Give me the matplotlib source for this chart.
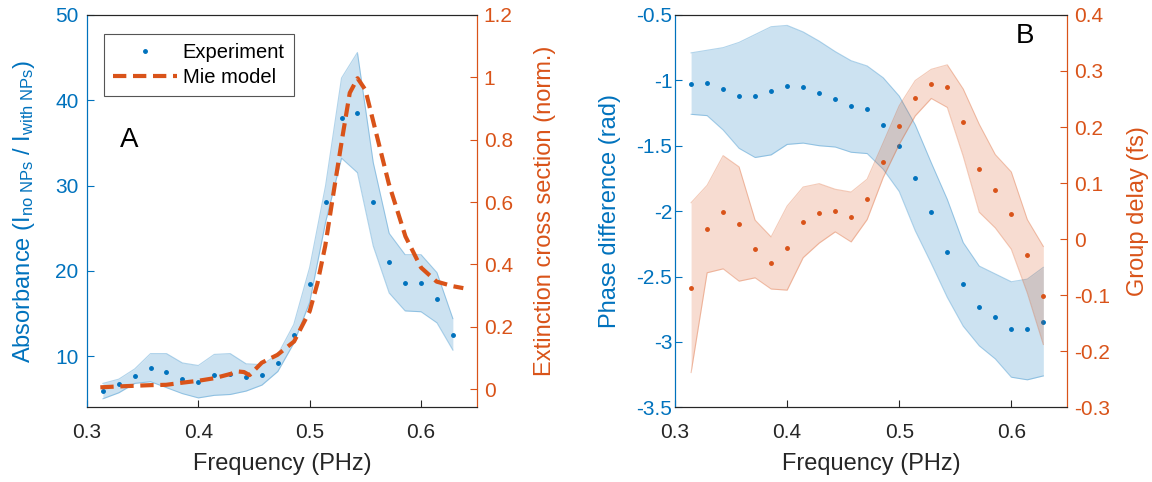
import matplotlib
matplotlib.use("Agg")
import matplotlib.pyplot as plt
from matplotlib.ticker import FuncFormatter

plt.rcParams["font.family"] = ["Liberation Sans", "DejaVu Sans"]
plt.rcParams["mathtext.fontset"] = "custom"
plt.rcParams["mathtext.rm"] = "Liberation Sans"
plt.rcParams["mathtext.it"] = "Liberation Sans:italic"
plt.rcParams["font.size"] = 15

BLUE = "#0072BD"
ORANGE = "#D95319"
GRAY = "#262626"

# frequency grid of the measurement (PHz)
freq = [0.3143, 0.3286, 0.3429, 0.3571, 0.3714, 0.3857, 0.4000, 0.4143,
        0.4286, 0.4429, 0.4571, 0.4714, 0.4857, 0.5000, 0.5143, 0.5286,
        0.5429, 0.5571, 0.5714, 0.5857, 0.6000, 0.6143, 0.6286]

# panel A: absorbance
absorb = [5.9, 6.7, 7.65, 8.55, 8.1, 7.3, 7.0, 7.8, 7.9, 7.6, 7.8, 9.2,
          12.5, 18.4, 28.1, 37.9, 38.5, 28.1, 21.0, 18.6, 18.6, 16.7, 12.5]
absorb_hi = [6.8, 7.3, 8.5, 10.3, 10.3, 9.2, 8.9, 10.2, 10.3, 9.1, 9.0, 10.2,
             13.7, 20.4, 30.0, 42.6, 45.6, 32.7, 24.4, 21.9, 21.9, 19.8, 14.4]
absorb_lo = [5.0, 5.7, 6.8, 7.0, 6.3, 5.6, 5.1, 5.4, 5.5, 5.9, 6.6, 8.2,
             11.5, 16.3, 25.7, 33.2, 31.5, 22.9, 17.4, 15.3, 15.2, 13.9, 10.7]

# panel A: Mie model
mie_freq = [0.312, 0.329, 0.343, 0.357, 0.371, 0.386, 0.400, 0.414, 0.429,
            0.435, 0.441, 0.446, 0.457, 0.471, 0.486, 0.500, 0.507, 0.514,
            0.521, 0.529, 0.536, 0.543, 0.550, 0.557, 0.571, 0.586, 0.600,
            0.614, 0.629, 0.638]
mie = [0.006, 0.009, 0.011, 0.013, 0.014, 0.021, 0.027, 0.035, 0.049,
       0.057, 0.055, 0.045, 0.085, 0.11, 0.153, 0.25, 0.34, 0.46,
       0.62, 0.80, 0.95, 0.997, 0.96, 0.86, 0.66, 0.49, 0.39,
       0.345, 0.33, 0.324]

# panel B: phase difference
phase = [-1.03, -1.02, -1.07, -1.12, -1.12, -1.08, -1.04, -1.05, -1.10, -1.14,
         -1.20, -1.22, -1.34, -1.50, -1.75, -2.01, -2.31, -2.56, -2.73, -2.81,
         -2.90, -2.90, -2.85]
phase_hi = [-0.79, -0.77, -0.75, -0.71, -0.65, -0.59, -0.58, -0.63, -0.70, -0.78,
            -0.85, -0.89, -0.98, -1.12, -1.34, -1.63, -1.91, -2.24, -2.42, -2.48,
            -2.54, -2.52, -2.43]
phase_lo = [-1.26, -1.27, -1.38, -1.52, -1.59, -1.57, -1.49, -1.48, -1.50, -1.51,
            -1.55, -1.56, -1.68, -1.85, -2.15, -2.40, -2.66, -2.88, -3.03, -3.13,
            -3.27, -3.29, -3.26]

# panel B: group delay
delay = [-0.087, 0.018, 0.048, 0.027, -0.017, -0.042, -0.015, 0.030, 0.046,
         0.051, 0.039, 0.071, 0.138, 0.201, 0.252, 0.277, 0.272, 0.209, 0.126,
         0.087, 0.045, -0.028, -0.101]
delay_hi = [0.065, 0.096, 0.149, 0.129, 0.034, 0.004, 0.059, 0.093, 0.099,
            0.089, 0.084, 0.107, 0.172, 0.238, 0.283, 0.303, 0.311, 0.268, 0.205,
            0.151, 0.120, 0.035, -0.013]
delay_lo = [-0.238, -0.060, -0.053, -0.075, -0.069, -0.089, -0.091, -0.033, -0.007,
            0.013, -0.005, 0.035, 0.110, 0.169, 0.220, 0.251, 0.235, 0.148, 0.048,
            0.020, -0.018, -0.096, -0.188]

fmt = FuncFormatter(lambda v, _: f"{v:g}")


def style_axes(ax, ax2, left_pad):
    ax.set_xlim(0.3, 0.65)
    ax.set_xticks([0.3, 0.4, 0.5, 0.6])
    ax.xaxis.set_major_formatter(fmt)
    ax.set_xlabel("Frequency (PHz)", color=GRAY, fontsize=17, labelpad=8)
    ax.tick_params(axis="x", colors=GRAY, direction="in", length=5, labelsize=15, pad=11)
    ax.tick_params(axis="y", colors=BLUE, direction="in", length=5, labelsize=15,
                   pad=left_pad)
    ax2.tick_params(axis="y", colors=ORANGE, direction="in", length=5, labelsize=15, pad=5)
    ax.yaxis.set_major_formatter(fmt)
    ax2.yaxis.set_major_formatter(fmt)
    for a in (ax, ax2):
        a.spines["bottom"].set_color(GRAY)
        a.spines["top"].set_color(GRAY)
        a.spines["left"].set_color(BLUE)
        a.spines["right"].set_color(ORANGE)
        for s in a.spines.values():
            s.set_linewidth(0.8)


fig = plt.figure(figsize=(11.52, 4.82), dpi=100)

# ---- panel A
axA = fig.add_axes([0.0755, 0.155, 0.3383, 0.814])
axA2 = axA.twinx()
axA.fill_between(freq, absorb_lo, absorb_hi, color=BLUE, alpha=0.2, linewidth=0)
axA.plot(freq, absorb_hi, color=BLUE, alpha=0.3, linewidth=0.8)
axA.plot(freq, absorb_lo, color=BLUE, alpha=0.3, linewidth=0.8)
hExp, = axA.plot(freq, absorb, ".", color=BLUE, markersize=5, label="Experiment")
hMie, = axA2.plot(mie_freq, mie, "--", color=ORANGE, linewidth=3, dashes=(3.2, 1.6),
                  label="Mie model")
axA.set_ylim(4, 50)
axA.set_yticks([10, 20, 30, 40, 50])
axA2.set_ylim(-0.058, 1.2)
axA2.set_yticks([0, 0.2, 0.4, 0.6, 0.8, 1, 1.2])
axA.set_ylabel(r"Absorbance (I$_{\mathrm{no\ NPs}}$ / I$_{\mathrm{with\ NPs}}$)",
               color=BLUE, fontsize=17, labelpad=13)
axA2.set_ylabel("Extinction cross section (norm.)", color=ORANGE, fontsize=17, labelpad=15)
style_axes(axA, axA2, 6)
leg = axA.legend([hExp, hMie], ["Experiment", "Mie model"], loc="upper left",
                 bbox_to_anchor=(0.0436, 0.9516), borderaxespad=0, fancybox=False,
                 edgecolor="#555555", framealpha=1, fontsize=14.5, handlelength=3.2,
                 handletextpad=0.25, borderpad=0.45, labelspacing=0.3, markerscale=1.0)
leg.get_frame().set_linewidth(0.8)
axA.text(0.085, 0.664, "A", transform=axA.transAxes, fontsize=20, color="black",
         ha="left", va="baseline")

# ---- panel B
axB = fig.add_axes([0.586, 0.155, 0.3405, 0.814])
axB2 = axB.twinx()
axB.fill_between(freq, phase_lo, phase_hi, color=BLUE, alpha=0.2, linewidth=0)
axB.plot(freq, phase_hi, color=BLUE, alpha=0.3, linewidth=0.8)
axB.plot(freq, phase_lo, color=BLUE, alpha=0.3, linewidth=0.8)
axB.plot(freq, phase, ".", color=BLUE, markersize=5)
axB2.fill_between(freq, delay_lo, delay_hi, color=ORANGE, alpha=0.2, linewidth=0)
axB2.plot(freq, delay_hi, color=ORANGE, alpha=0.3, linewidth=0.8)
axB2.plot(freq, delay_lo, color=ORANGE, alpha=0.3, linewidth=0.8)
axB2.plot(freq, delay, ".", color=ORANGE, markersize=5)
axB.set_ylim(-3.5, -0.5)
axB.set_yticks([-3.5, -3, -2.5, -2, -1.5, -1, -0.5])
axB2.set_ylim(-0.3, 0.4)
axB2.set_yticks([-0.3, -0.2, -0.1, 0, 0.1, 0.2, 0.3, 0.4])
axB.set_ylabel("Phase difference (rad)", color=BLUE, fontsize=17, labelpad=11)
axB2.set_ylabel("Group delay (fs)", color=ORANGE, fontsize=17, labelpad=12)
style_axes(axB, axB2, 2)
axB.text(0.869, 0.929, "B", transform=axB.transAxes, fontsize=20, color="black",
         ha="left", va="baseline")

fig.savefig("out.png", dpi=100)
